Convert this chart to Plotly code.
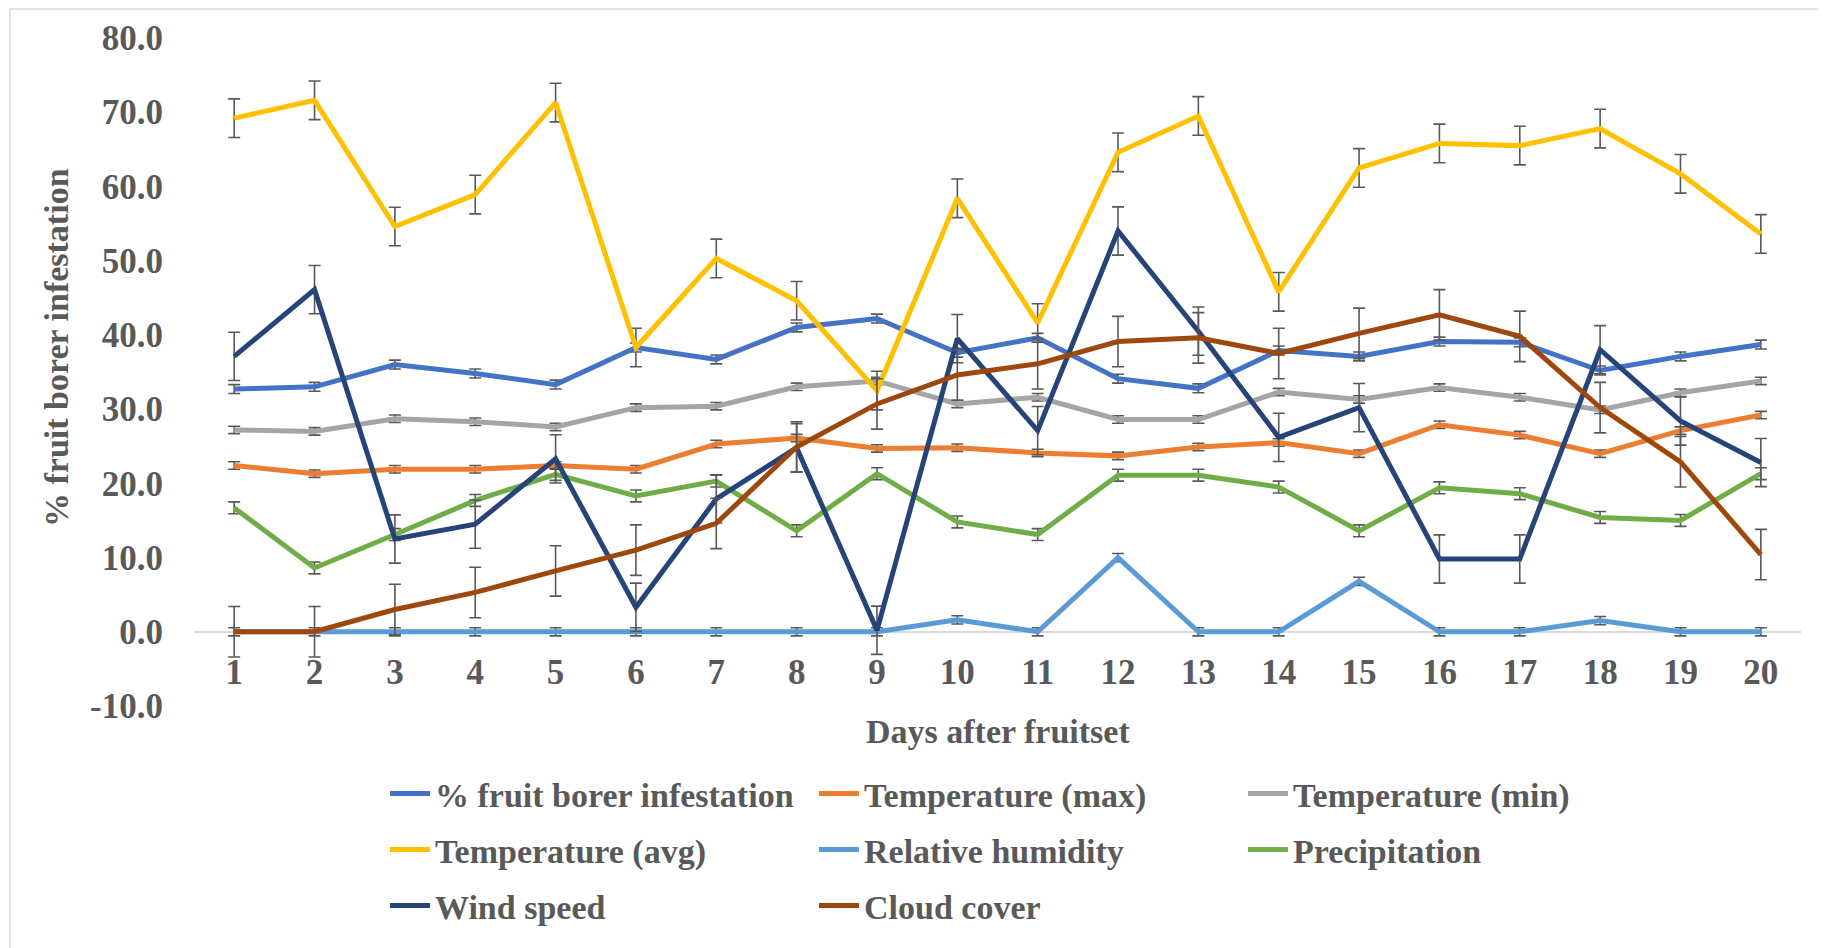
import plotly.graph_objects as go

days = list(range(1, 21))
day_labels = [str(d) for d in days]
y_tick_vals = [-10, 0, 10, 20, 30, 40, 50, 60, 70, 80]
y_tick_text = ["-10.0", "0.0", "10.0", "20.0", "30.0", "40.0", "50.0", "60.0", "70.0", "80.0"]

infestation = [32.7, 33.0, 36.0, 34.8, 33.3, 38.3, 36.7, 41.0, 42.2, 37.6,
               39.6, 34.1, 32.8, 37.9, 37.1, 39.1, 39.0, 35.2, 37.1, 38.7]
temp_max = [22.4, 21.3, 21.9, 21.9, 22.4, 21.9, 25.3, 26.1, 24.7, 24.8,
            24.1, 23.7, 24.9, 25.5, 24.0, 27.9, 26.5, 24.0, 27.1, 29.2]
temp_min = [27.2, 27.0, 28.7, 28.3, 27.6, 30.2, 30.4, 33.0, 33.8, 30.7,
            31.6, 28.6, 28.6, 32.3, 31.3, 32.9, 31.6, 29.9, 32.2, 33.8]
temp_avg = [69.2, 71.6, 54.6, 58.9, 71.3, 38.3, 50.3, 44.6, 32.5, 58.4,
            41.6, 64.6, 69.5, 45.8, 62.5, 65.8, 65.5, 67.8, 61.7, 53.6]
humidity = [0.0, 0.0, 0.0, 0.0, 0.0, 0.0, 0.0, 0.0, 0.0, 1.6,
            0.0, 10.0, 0.0, 0.0, 6.8, 0.0, 0.0, 1.5, 0.0, 0.0]
precipitation = [16.7, 8.6, 13.1, 17.7, 21.2, 18.3, 20.3, 13.6, 21.3, 14.8,
                 13.1, 21.1, 21.1, 19.5, 13.6, 19.4, 18.6, 15.4, 15.0, 21.3]
wind_speed = [37.1, 46.1, 12.5, 14.5, 23.3, 3.3, 17.9, 24.8, 0.2, 39.5,
              27.1, 54.0, 40.5, 26.2, 30.2, 9.8, 9.8, 38.0, 28.4, 22.8]
cloud_cover = [0.0, 0.0, 3.0, 5.3, 8.2, 11.0, 14.6, 24.9, 30.7, 34.6,
               36.1, 39.1, 39.6, 37.5, 40.2, 42.7, 39.8, 30.2, 22.9, 10.4]

series_names = ["% fruit borer infestation", "Temperature (max)", "Temperature (min)",
                "Temperature (avg)", "Relative humidity", "Precipitation",
                "Wind speed", "Cloud cover"]
series_values = [infestation, temp_max, temp_min, temp_avg, humidity,
                 precipitation, wind_speed, cloud_cover]
series_errors = [0.6, 0.5, 0.5, 2.6, 0.55, 0.8, 3.25, 3.4]
series_colors = ["#4472C4", "#ED7D31", "#A5A5A5", "#FFC000", "#5B9BD5",
                 "#70AD47", "#264478", "#9E480E"]
series_legend = ["legend", "legend", "legend", "legend2", "legend2", "legend2",
                 "legend3", "legend3"]

FONT = "Liberation Serif"
TXT = "#595959"

fig = go.Figure()
for name, vals, err, col, lg in zip(series_names, series_values, series_errors,
                                     series_colors, series_legend):
    fig.add_trace(go.Scatter(
        x=days, y=vals, name=name, mode="lines",
        line=dict(color=col, width=5),
        error_y=dict(type="constant", value=err, color="#595959",
                     thickness=1.6, width=6),
        legend=lg,
    ))

# page has an 8px body margin; work in reference-page pixels and subtract it
OFF = 8
W, H = 1826 - OFF, 948 - OFF
L = 194 - OFF
T = 38 - OFF
plot_right = 1801 - OFF
plot_bottom = 706 - OFF
R = W - plot_right
B = H - plot_bottom
pw = W - L - R
ph = H - T - B


def px_x(x):
    return (x - OFF - L) / pw


def px_y(y):
    return (plot_bottom - (y - OFF)) / ph


legend_common = dict(
    orientation="h", entrywidth=374, entrywidthmode="pixels",
    font=dict(family=FONT, size=34, color=TXT, weight="bold"),
    xanchor="left", yanchor="middle", bgcolor="rgba(0,0,0,0)",
    itemwidth=40, traceorder="normal",
)

fig.update_layout(
    width=W, height=H,
    margin=dict(l=L, r=R, t=T, b=B),
    paper_bgcolor="white", plot_bgcolor="white",
    showlegend=True,
    legend=dict(x=px_x(385), y=px_y(794), **legend_common),
    legend2=dict(x=px_x(385), y=px_y(850), **legend_common),
    legend3=dict(x=px_x(385), y=px_y(906), **legend_common),
    xaxis=dict(
        range=[0.5, 20.5], tickmode="array", tickvals=days, ticktext=day_labels,
        showgrid=False, showline=False, zeroline=False, ticks="",
        anchor="free", position=10 / 90,
        tickfont=dict(family=FONT, size=35, color=TXT, weight="bold"),
        ticklabelstandoff=16,
    ),
    yaxis=dict(
        range=[-10, 80], tickmode="array", tickvals=y_tick_vals, ticktext=y_tick_text,
        showgrid=False, showline=False, ticks="",
        zeroline=True, zerolinecolor="#D9D9D9", zerolinewidth=1.5,
        tickfont=dict(family=FONT, size=35, color=TXT, weight="bold"),
        ticklabelstandoff=30,
    ),
    annotations=[
        dict(text="% fruit borer infestation", xref="paper", yref="paper",
             x=px_x(56), y=px_y(348), textangle=-90, showarrow=False,
             xanchor="center", yanchor="middle",
             font=dict(family=FONT, size=34, color=TXT, weight="bold")),
        dict(text="Days after fruitset", xref="paper", yref="paper",
             x=px_x(998), y=px_y(731), showarrow=False,
             xanchor="center", yanchor="middle",
             font=dict(family=FONT, size=34, color=TXT, weight="bold")),
    ],
    shapes=[
        dict(type="line", xref="paper", yref="paper", x0=px_x(10), x1=px_x(10),
             y0=px_y(9), y1=px_y(960), line=dict(color="#D9D9D9", width=1.5)),
        dict(type="line", xref="paper", yref="paper", x0=px_x(10), x1=px_x(1840),
             y0=px_y(9), y1=px_y(9), line=dict(color="#D9D9D9", width=1.5)),
    ],
)

fig.write_html("out.html")
